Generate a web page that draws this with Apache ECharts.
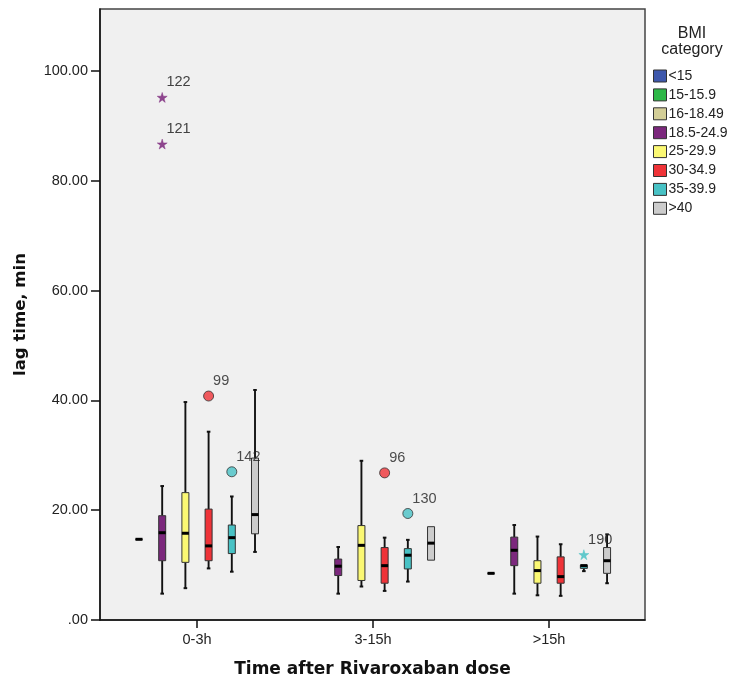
<!DOCTYPE html>
<html>
<head>
<meta charset="utf-8">
<script src="https://cdn.jsdelivr.net/npm/echarts@6/dist/echarts.min.js"></script>
<style>html,body{margin:0;padding:0;background:#fff;}#c{width:731px;height:684px;}</style>
</head>
<body>
<div id="c"></div>
<script>
// ---- data ----
const groups = ['0-3h', '3-15h', '>15h'];
const bmiCategories = ['<15', '15-15.9', '16-18.49', '18.5-24.9', '25-29.9', '30-34.9', '35-39.9', '>40'];
const yTicks = [0, 20, 40, 60, 80, 100];

// five-number summaries per time group: [lowWhisker, Q1, median, Q3, highWhisker]; null = no cases
const bmiLt15 = [null, null, null];
const bmi15to15_9 = [null, null, null];
const bmi16to18_49 = [[14.7, 14.7, 14.7, 14.7, 14.7], null, [8.5, 8.5, 8.5, 8.5, 8.5]];
const bmi18_5to24_9 = [[4.8, 10.8, 15.9, 19.0, 24.4], [4.8, 8.1, 9.8, 11.1, 13.3], [4.8, 9.9, 12.7, 15.1, 17.3]];
const bmi25to29_9 = [[5.8, 10.5, 15.8, 23.2, 39.7], [6.1, 7.2, 13.6, 17.2, 29.0], [4.5, 6.7, 9.0, 10.8, 15.2]];
const bmi30to34_9 = [[9.4, 10.8, 13.5, 20.2, 34.3], [5.3, 6.7, 9.9, 13.2, 15.0], [4.4, 6.7, 7.9, 11.5, 13.8]];
const bmi35to39_9 = [[8.8, 12.1, 15.0, 17.3, 22.5], [7.0, 9.3, 11.8, 13.0, 14.6], [8.9, 9.4, 9.9, 10.0, 10.0]];
const bmiGt40 = [[12.4, 15.7, 19.2, 29.5, 41.9], [10.9, 10.9, 14.0, 17.0, 17.0], [6.7, 8.5, 10.8, 13.2, 15.6]];

// outliers / extremes
const outlierGroup = [0, 0, 0, 0, 1, 1, 2];
const outlierBmi = [3, 3, 5, 6, 5, 6, 6];
const outlierValue = [95.2, 86.7, 40.8, 27.0, 26.8, 19.4, 11.9];
const outlierCase = ['122', '121', '99', '142', '96', '130', '190'];
const outlierKind = ['extreme', 'extreme', 'outlier', 'outlier', 'outlier', 'outlier', 'extreme'];

// ---- styling ----
const bmiColors = ['#3E58AC', '#2EB848', '#D3CE97', '#7C287D', '#FBF873', '#EF3338', '#48C2C5', '#CCCCCC'];
const bmiStats = [bmiLt15, bmi15to15_9, bmi16to18_49, bmi18_5to24_9, bmi25to29_9, bmi30to34_9, bmi35to39_9, bmiGt40];
const slotStep = 23.2 / 176;
function slotOffset(bmiIdx) { return (bmiIdx - 2 - 2.5) * slotStep; }
const FONT = 'Liberation Sans, Arial, sans-serif';
const STAR = 'path://M50,0 L61,35 L98,35 L68,57 L79,91 L50,70 L21,91 L32,57 L2,35 L39,35 Z';

const chart = echarts.init(document.getElementById('c'));

const series = bmiCategories.map((name, b) => {
  const data = [];
  bmiStats[b].forEach((s, g) => { if (s) data.push([g].concat(s)); });
  return {
    type: 'custom',
    name: name,
    itemStyle: { color: bmiColors[b], borderColor: '#333', borderWidth: 1 },
    data: data,
    clip: false,
    renderItem: function (params, api) {
      const x = api.value(0) + slotOffset(b);
      const pLo = api.coord([x, api.value(1)]);
      const pQ1 = api.coord([x, api.value(2)]);
      const pMed = api.coord([x, api.value(3)]);
      const pQ3 = api.coord([x, api.value(4)]);
      const pHi = api.coord([x, api.value(5)]);
      const cx = pMed[0];
      const hw = 3.5, cap = 1.8;
      const ln = { stroke: '#111', lineWidth: 1.9 };
      const children = [];
      if (pHi[1] < pQ3[1] - 0.5) {
        children.push({ type: 'line', shape: { x1: cx, y1: pHi[1], x2: cx, y2: pQ3[1] }, style: ln });
        children.push({ type: 'line', shape: { x1: cx - cap, y1: pHi[1], x2: cx + cap, y2: pHi[1] }, style: { stroke: '#111', lineWidth: 2 } });
      }
      if (pLo[1] > pQ1[1] + 0.5) {
        children.push({ type: 'line', shape: { x1: cx, y1: pQ1[1], x2: cx, y2: pLo[1] }, style: ln });
        children.push({ type: 'line', shape: { x1: cx - cap, y1: pLo[1], x2: cx + cap, y2: pLo[1] }, style: { stroke: '#111', lineWidth: 2 } });
      }
      children.push({ type: 'rect', shape: { x: cx - hw, y: pQ3[1], width: hw * 2, height: Math.max(0, pQ1[1] - pQ3[1]) },
        style: { fill: bmiColors[b], stroke: '#333', lineWidth: 1 } });
      children.push({ type: 'line', shape: { x1: cx - hw, y1: pMed[1], x2: cx + hw, y2: pMed[1] }, style: { stroke: '#000', lineWidth: 3 } });
      return { type: 'group', children: children };
    }
  };
});

const outlierData = outlierValue.map((v, i) => ({
  value: [outlierGroup[i] + slotOffset(outlierBmi[i]), v],
  symbol: outlierKind[i] === 'extreme' ? STAR : 'circle',
  symbolSize: 10,
  itemStyle: outlierKind[i] === 'extreme'
    ? { color: bmiColors[outlierBmi[i]], opacity: 0.85, borderColor: bmiColors[outlierBmi[i]], borderWidth: 0.5 }
    : { color: bmiColors[outlierBmi[i]], borderColor: '#333', borderWidth: 1 },
  label: { formatter: outlierCase[i] }
}));

series.push({
  type: 'scatter',
  name: 'outliers',
  data: outlierData,
  z: 5,
  label: { show: true, position: 'right', distance: 0, offset: [-1, -15], color: '#222', fontSize: 14.5, fontFamily: FONT }
});

chart.setOption({
  backgroundColor: '#fff',
  animation: false,
  title: {
    text: 'BMI\ncategory',
    left: 687, top: 21, textAlign: 'center',
    textStyle: { fontFamily: FONT, fontSize: 16, fontWeight: 'normal', color: '#222', lineHeight: 16 }
  },
  legend: {
    data: bmiCategories.map(n => ({ name: n, icon: 'rect' })),
    orient: 'vertical', left: 648, top: 64,
    itemWidth: 13, itemHeight: 12, itemGap: 4.9,
    itemStyle: { borderColor: '#333', borderWidth: 1 },
    textStyle: { fontFamily: FONT, fontSize: 14, color: '#222', padding: [0, 0, 0, -3] },
    selectedMode: false
  },
  grid: { left: 100, top: 9, width: 545, height: 611, show: true, backgroundColor: '#f0f0f0', borderColor: '#444', borderWidth: 1.5 },
  xAxis: {
    type: 'value', min: -0.551, max: 2.545,
    splitLine: { show: false },
    axisLine: { show: true, onZero: false, lineStyle: { color: '#111', width: 1.5 } },
    axisTick: { show: true, length: 8, lineStyle: { color: '#111', width: 1.5 }, customValues: [0, 1, 2] },
    axisLabel: { customValues: [0, 1, 2], formatter: v => groups[Math.round(v)], margin: 12, fontFamily: FONT, fontSize: 14.5, color: '#222' },
    name: 'Time after Rivaroxaban dose', nameLocation: 'middle', nameGap: 41,
    nameTextStyle: { fontFamily: 'DejaVu Sans', fontWeight: 'bold', fontSize: 17, color: '#111' }
  },
  yAxis: {
    type: 'value', min: 0, max: 111.3,
    splitLine: { show: false },
    axisLine: { show: true, onZero: false, lineStyle: { color: '#111', width: 1.5 } },
    axisTick: { show: true, length: 9, lineStyle: { color: '#111', width: 1.5 }, customValues: yTicks },
    axisLabel: { customValues: yTicks, formatter: v => v === 0 ? '.00' : v.toFixed(2), margin: 12, fontFamily: FONT, fontSize: 14.5, color: '#222' },
    name: 'lag time, min', nameLocation: 'middle', nameGap: 71, nameRotate: 90,
    nameTextStyle: { fontFamily: 'DejaVu Sans', fontWeight: 'bold', fontSize: 16.5, color: '#111' }
  },
  series: series
});
</script>
</body>
</html>
